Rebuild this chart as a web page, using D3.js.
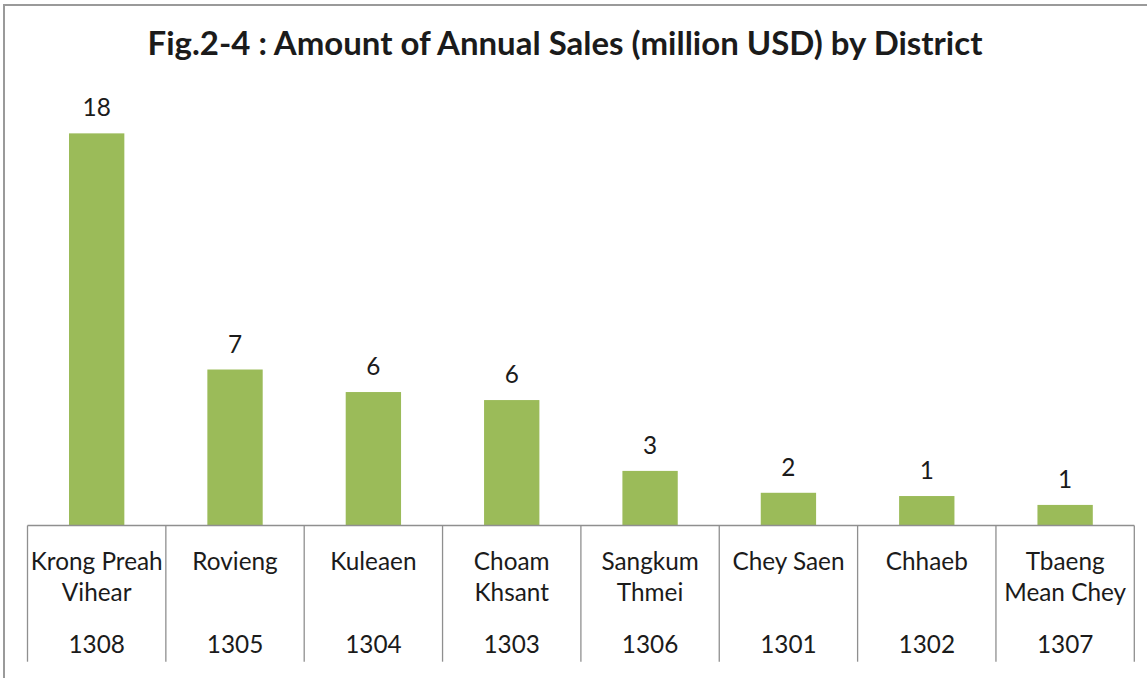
<!DOCTYPE html>
<html>
<head>
<meta charset="utf-8">
<script src="https://cdn.jsdelivr.net/npm/d3@7"></script>
<style>
  body { margin: 0; background: #fff; }
  text { font-family: Lato, "Open Sans", sans-serif; fill: #1b1b1b; }
</style>
</head>
<body>
<svg id="chart"></svg>
<script>
// values (labels are rounded to whole numbers)
var districts = ['Krong Preah\nVihear', 'Rovieng', 'Kuleaen', 'Choam\nKhsant', 'Sangkum\nThmei', 'Chey Saen', 'Chhaeb', 'Tbaeng\nMean Chey']
var codes = ['1308', '1305', '1304', '1303', '1306', '1301', '1302', '1307']
var sales = [18.1, 7.2, 6.16, 5.79, 2.52, 1.51, 1.36, 0.95]
var title = 'Fig.2-4 : Amount of Annual Sales (million USD) by District'

var width = 1147, height = 678
var svg = d3.select('#chart').attr('width', width).attr('height', height)

// outer frame, only top and left edge show inside the picture
svg.append('rect')
  .attr('x', 4).attr('y', 5).attr('width', width + 20).attr('height', height + 20)
  .attr('fill', 'none').attr('stroke', '#9a9a9a').attr('stroke-width', 2)

var left = 27.5, right = 1134.3, tableBottom = 661.7

var x = d3.scaleBand().domain(d3.range(sales.length)).range([left, right])
  .paddingInner(0.6).paddingOuter(0.3)
var cell = d3.scaleBand().domain(d3.range(sales.length)).range([left, right])
var y = d3.scaleLinear().domain([0, 20]).range([525.5, 92.2])

// title, sized to the width it takes in the original
var t = svg.append('text').text(title)
  .attr('x', 565).attr('y', 55)
  .attr('text-anchor', 'middle')
  .style('font-weight', 700).style('font-size', '29px')
var tw = t.node().getComputedTextLength()
t.style('font-size', (29 * 835 / tw) + 'px')

// work out a label size so "Krong Preah" is as wide as in the picture
var probe = svg.append('text').text('Krong Preah').style('font-size', '24px')
var labelSize = 24 * 132 / probe.node().getComputedTextLength()
probe.remove()

svg.selectAll('rect.bar').data(sales).enter().append('rect')
  .attr('class', 'bar')
  .attr('x', (d, i) => x(i))
  .attr('y', d => y(d))
  .attr('width', x.bandwidth())
  .attr('height', d => y(0) - y(d))
  .attr('fill', '#9bbb59')

svg.selectAll('text.value').data(sales).enter().append('text')
  .attr('class', 'value')
  .attr('x', (d, i) => x(i) + x.bandwidth() / 2)
  .attr('y', d => y(d) - 17)
  .attr('text-anchor', 'middle')
  .style('font-size', labelSize + 'px')
  .text(d => d3.format('.0f')(d))

// table under the bars
var grid = svg.append('g').attr('stroke', '#8f8f8f').attr('stroke-width', 1.3)
grid.append('line')
  .attr('x1', left).attr('x2', right)
  .attr('y1', y(0)).attr('y2', y(0))
grid.selectAll('line.v').data(d3.range(sales.length + 1)).enter().append('line')
  .attr('class', 'v')
  .attr('x1', i => left + i * cell.step()).attr('x2', i => left + i * cell.step())
  .attr('y1', y(0)).attr('y2', tableBottom)

var labels = svg.selectAll('g.label').data(districts).enter().append('g')
  .attr('class', 'label')
  .attr('transform', (d, i) => `translate(${cell(i) + cell.bandwidth() / 2},0)`)

labels.selectAll('text.name').data(d => d.split('\n')).enter().append('text')
  .attr('class', 'name')
  .attr('y', (d, j) => 570 + j * 31)
  .attr('text-anchor', 'middle')
  .style('font-size', labelSize + 'px')
  .text(d => d)

labels.append('text')
  .attr('y', 653)
  .attr('text-anchor', 'middle')
  .style('font-size', labelSize + 'px')
  .text((d, i) => codes[i])
</script>
</body>
</html>
